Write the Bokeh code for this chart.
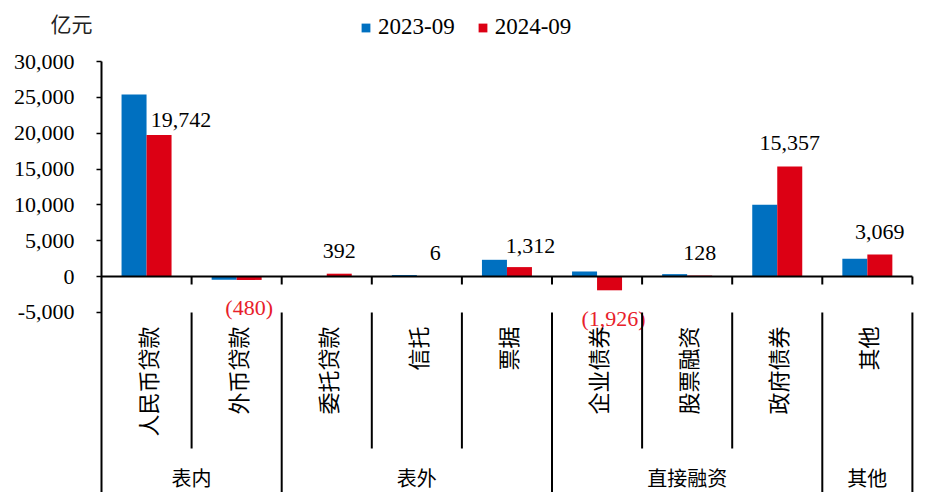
import math
from bokeh.plotting import figure
from bokeh.layouts import column
from bokeh.models import (ColumnDataSource, Range1d, FixedTicker, NumeralTickFormatter,
                          Legend, LegendItem)
from bokeh.core.properties import value
from bokeh.embed import file_html
from bokeh.resources import INLINE

# ---------------- data ----------------
categories = ["人民币贷款", "外币贷款", "委托贷款", "信托", "票据",
              "企业债券", "股票融资", "政府债券", "其他"]
groups = ["表内", "表外", "直接融资", "其他"]
group_sizes = [2, 3, 3, 1]
series_names = ["2023-09", "2024-09"]
values_2023 = [25400, -460, -20, 200, 2330, 700, 330, 10000, 2470]
values_2024 = [19742, -480, 392, 6, 1312, -1926, 128, 15357, 3069]
y_ticks = [-5000, 0, 5000, 10000, 15000, 20000, 25000, 30000]
unit_label = "亿元"

# ---------------- layout constants (page pixels) ----------------
W, H = 929, 492
HEAD_H = 45                 # height of the header strip (unit + legend)
LEFT, FRAME_RIGHT = 101, 915
CAT_W = 90.1
TOP = 61
ZERO_PX = 276
Y_MAX = 30000
PX_PER_UNIT = (ZERO_PX - TOP) / Y_MAX
def val(px):
    return (ZERO_PX - px) / PX_PER_UNIT
Y_MIN = val(H)

BLUE = "#0070C0"
RED = "#DC0014"
LABEL_RED = "#E8202A"
SERIF = "Liberation Serif"
CJK = "Noto Sans CJK SC"

n = len(categories)
bar_w = 0.2775
xc = [i + 0.5 for i in range(n)]

# ---------------- header strip (unit label + legend) ----------------
head = figure(width=W, height=HEAD_H, output_backend="svg", toolbar_location=None,
              x_range=Range1d(0, 1), y_range=Range1d(HEAD_H, 0),
              x_axis_location=None, y_axis_location="left",
              min_border_left=LEFT, min_border_right=W - FRAME_RIGHT,
              min_border_top=0, min_border_bottom=0)
head.outline_line_color = None
head.xgrid.visible = False
head.ygrid.visible = False
hax = head.yaxis[0]
hax.ticker = FixedTicker(ticks=[])
hax.axis_line_color = None
hax.major_tick_line_color = None
hax.minor_tick_line_color = None
hax.major_tick_out = 0
hax.major_tick_in = 0
hax.bounds = (20, 33)
hax.axis_label = unit_label
hax.axis_label_orientation = "horizontal"
hax.axis_label_standoff = 9
hax.axis_label_text_font = CJK
hax.axis_label_text_font_size = "21px"
hax.axis_label_text_font_style = "normal"
hax.axis_label_text_color = "#222222"

# legend proxies: zero-size bars (invisible) that carry the series colours
proxy = ColumnDataSource(dict(x=[0.5], top=[0], bottom=[0]))
d1 = head.vbar(x="x", top="top", bottom="bottom", width=0, source=proxy,
               fill_color=BLUE, line_color=None)
d2 = head.vbar(x="x", top="top", bottom="bottom", width=0, source=proxy,
               fill_color=RED, line_color=None)
legend = Legend(items=[LegendItem(label=series_names[0], renderers=[d1]),
                       LegendItem(label=series_names[1], renderers=[d2])],
                orientation="horizontal", location=(360 - LEFT, 5),
                glyph_width=11, glyph_height=11, label_standoff=7, spacing=22,
                padding=0, margin=0, border_line_color=None,
                background_fill_alpha=0,
                label_text_font=SERIF, label_text_font_size="23px",
                label_text_color="black", label_text_baseline="middle")
head.add_layout(legend)

# ---------------- main chart ----------------
p = figure(width=W, height=H - HEAD_H, output_backend="svg", toolbar_location=None,
           x_range=Range1d(0, (FRAME_RIGHT - LEFT) / CAT_W), y_range=Range1d(Y_MIN, Y_MAX),
           x_axis_location=None, y_axis_location="left",
           min_border_left=LEFT, min_border_right=W - FRAME_RIGHT,
           min_border_top=TOP - HEAD_H, min_border_bottom=0)
p.outline_line_color = None
p.xgrid.visible = False
p.ygrid.visible = False

ax = p.yaxis[0]
ax.ticker = FixedTicker(ticks=y_ticks)
ax.formatter = NumeralTickFormatter(format="0,0")
ax.axis_line_color = "black"
ax.axis_line_width = 2
ax.major_tick_line_color = "black"
ax.major_tick_line_width = 1.5
ax.major_tick_out = 5
ax.major_tick_in = 0
ax.minor_tick_line_color = None
ax.major_label_standoff = 22
ax.major_label_text_font = SERIF
ax.major_label_text_font_size = "22px"
ax.major_label_text_color = "black"

src = ColumnDataSource(dict(
    x1=[x - bar_w / 2 for x in xc], x2=[x + bar_w / 2 for x in xc],
    v1=values_2023, v2=values_2024))
r1 = p.vbar(x="x1", top="v1", bottom=0, width=bar_w, source=src,
            fill_color=BLUE, line_color=None)
r2 = p.vbar(x="x2", top="v2", bottom=0, width=bar_w, source=src,
            fill_color=RED, line_color=None)

# zero line
p.segment(x0=[0], x1=[n], y0=[0], y1=[0], line_color="black", line_width=2)

# data labels for 2024
label_dx = [22, 0, 0, 6, 11, 4, 0, 0, 0]
label_dy = [8, 0, 0, 0, 2, 0, 0, 0, 0]
lab_text, lab_color, lab_off = [], [], []
for v, dy in zip(values_2024, label_dy):
    if v < 0:
        lab_text.append("({:,})".format(-v))
        lab_color.append(LABEL_RED)
        lab_off.append(28 + dy)
    else:
        lab_text.append("{:,}".format(v))
        lab_color.append("black")
        lab_off.append(-23 + dy)
lsrc = ColumnDataSource(dict(x=[x + bar_w / 2 for x in xc], y=values_2024,
                             t=lab_text, c=lab_color, dx=label_dx, dy=lab_off))
p.text(x="x", y="y", text="t", source=lsrc, text_color="c",
       x_offset="dx", y_offset="dy", text_align="center", text_baseline="middle",
       text_font=value(SERIF), text_font_size="22px")

# category boundary structure
group_ends = []
acc = 0
for s in group_sizes:
    acc += s
    group_ends.append(acc)
inner = [b for b in range(1, n) if b not in group_ends]
full = list(group_ends)

# small ticks below zero line
p.segment(x0=list(range(1, n + 1)), x1=list(range(1, n + 1)),
          y0=[0] * n, y1=[val(ZERO_PX + 8)] * n, line_color="black", line_width=2)
# inner separators
p.segment(x0=inner, x1=inner, y0=[val(312)] * len(inner), y1=[val(448)] * len(inner),
          line_color="black", line_width=2)
# group separators
p.segment(x0=full, x1=full, y0=[val(312)] * len(full), y1=[val(H + 2)] * len(full),
          line_color="black", line_width=2)

# category labels (vertical)
p.text(x=xc, y=[val(326)] * n, text=categories, angle=math.pi / 2,
       text_align="right", text_baseline="middle",
       text_font=value(CJK), text_font_size="22px", text_color="black")

# group labels
gstart = [0] + group_ends[:-1]
gx = [(a + b) / 2 for a, b in zip(gstart, group_ends)]
p.text(x=gx, y=[val(477)] * len(groups), text=groups,
       text_align="center", text_baseline="middle",
       text_font=value(CJK), text_font_size="20px", text_color="black")

layout = column(head, p, spacing=0)
open("out.html", "w").write(file_html(layout, INLINE))
